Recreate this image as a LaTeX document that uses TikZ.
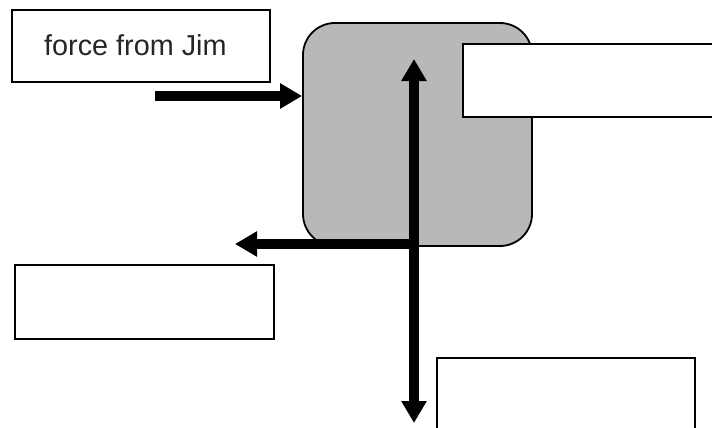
\documentclass[tikz,border=0pt]{standalone}
\usepackage{fontspec}
\setmainfont{Liberation Sans}
\usetikzlibrary{arrows.meta}
\definecolor{boxgray}{RGB}{184,184,184}
\begin{document}
\begin{tikzpicture}[x=1pt,y=-1pt,
  labelbox/.style={draw=black,line width=1.8pt,fill=white,inner sep=0pt},
  body/.style={draw=black,line width=1.8pt,fill=boxgray,rounded corners=32pt,inner sep=0pt},
  force/.style={line width=10pt,-{Triangle[length=22pt,width=24pt]}},
  dforce/.style={line width=10pt,{Triangle[length=22pt,width=24pt]}-{Triangle[length=22pt,width=24pt]}},
  lbl/.style={font=\fontsize{28.8}{32}\selectfont,inner sep=0pt,text=black!85}]
\useasboundingbox (0,0) rectangle (712,428);
% body
\node[body,minimum width=229pt,minimum height=223pt] (obj) at (417.5,134.5) {};
% label boxes
\node[labelbox,minimum width=258pt,minimum height=72pt] (jim) at (141,46) {};
\node[lbl,anchor=base west] (jimtext) at (44,56) {force from Jim};
\node[labelbox,minimum width=270pt,minimum height=73pt] (tr) at (598,80.5) {};
\node[labelbox,minimum width=259pt,minimum height=74pt] (bl) at (144.5,302) {};
\node[labelbox,minimum width=258pt,minimum height=90pt] (br) at (566,403) {};
% arrows
\coordinate (jstart) at (155,96);
\coordinate (jend) at (obj.west |- jstart);
\draw[force] (jstart) -- (jend);
\coordinate (vtop) at (414,59);
\coordinate (vbot) at (414,423);
\draw[dforce] (vbot) -- (vtop);
\coordinate (hstart) at (419,244);
\coordinate (hend) at (235,244);
\draw[force] (hstart) -- (hend);
\end{tikzpicture}
\end{document}
